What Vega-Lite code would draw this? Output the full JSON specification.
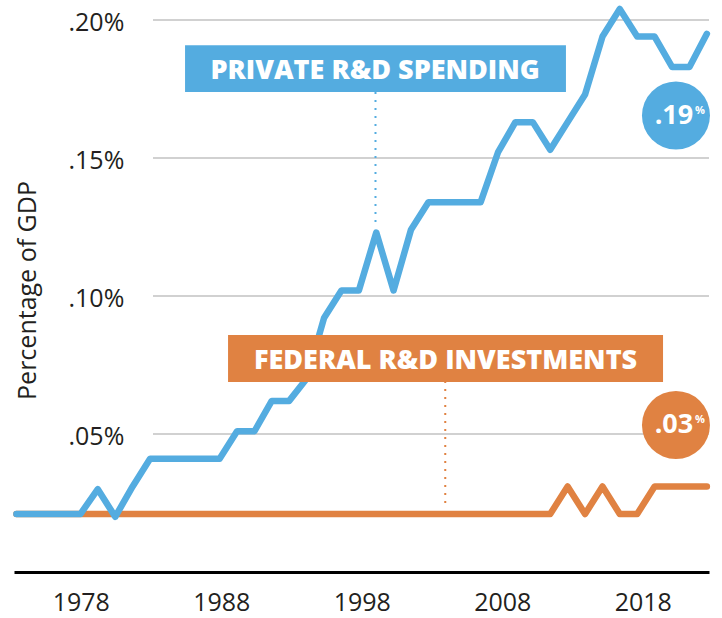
{
  "$schema": "https://vega.github.io/schema/vega-lite/v6.json",
  "width": 695,
  "height": 572,
  "autosize": {"type": "none"},
  "padding": {"left": 14, "top": 0, "right": 13, "bottom": 46},
  "background": "white",
  "config": {"view": {"stroke": null}, "font": "Open Sans"},
  "resolve": {"axis": {"x": "independent", "y": "independent"}},
  "datasets": {
    "rd": [
      {"year": 1973.42, "private": 0.021, "federal": 0.021},
      {"year": 1974.26, "private": 0.021, "federal": 0.021},
      {"year": 1975.50, "private": 0.021, "federal": 0.021},
      {"year": 1976.73, "private": 0.021, "federal": 0.021},
      {"year": 1977.97, "private": 0.021, "federal": 0.021},
      {"year": 1979.21, "private": 0.030, "federal": 0.021},
      {"year": 1980.45, "private": 0.020, "federal": 0.021},
      {"year": 1981.69, "private": 0.031, "federal": 0.021},
      {"year": 1982.93, "private": 0.041, "federal": 0.021},
      {"year": 1984.16, "private": 0.041, "federal": 0.021},
      {"year": 1985.40, "private": 0.041, "federal": 0.021},
      {"year": 1986.64, "private": 0.041, "federal": 0.021},
      {"year": 1987.88, "private": 0.041, "federal": 0.021},
      {"year": 1989.12, "private": 0.051, "federal": 0.021},
      {"year": 1990.36, "private": 0.051, "federal": 0.021},
      {"year": 1991.59, "private": 0.062, "federal": 0.021},
      {"year": 1992.83, "private": 0.062, "federal": 0.021},
      {"year": 1994.07, "private": 0.070, "federal": 0.021},
      {"year": 1995.31, "private": 0.092, "federal": 0.021},
      {"year": 1996.55, "private": 0.102, "federal": 0.021},
      {"year": 1997.79, "private": 0.102, "federal": 0.021},
      {"year": 1999.03, "private": 0.123, "federal": 0.021},
      {"year": 2000.26, "private": 0.102, "federal": 0.021},
      {"year": 2001.50, "private": 0.124, "federal": 0.021},
      {"year": 2002.74, "private": 0.134, "federal": 0.021},
      {"year": 2003.98, "private": 0.134, "federal": 0.021},
      {"year": 2005.22, "private": 0.134, "federal": 0.021},
      {"year": 2006.46, "private": 0.134, "federal": 0.021},
      {"year": 2007.69, "private": 0.152, "federal": 0.021},
      {"year": 2008.93, "private": 0.163, "federal": 0.021},
      {"year": 2010.17, "private": 0.163, "federal": 0.021},
      {"year": 2011.41, "private": 0.153, "federal": 0.021},
      {"year": 2012.65, "private": 0.163, "federal": 0.031},
      {"year": 2013.89, "private": 0.173, "federal": 0.021},
      {"year": 2015.13, "private": 0.194, "federal": 0.031},
      {"year": 2016.36, "private": 0.204, "federal": 0.021},
      {"year": 2017.60, "private": 0.194, "federal": 0.021},
      {"year": 2018.84, "private": 0.194, "federal": 0.031},
      {"year": 2020.08, "private": 0.183, "federal": 0.031},
      {"year": 2021.32, "private": 0.183, "federal": 0.031},
      {"year": 2022.56, "private": 0.195, "federal": 0.031}
    ]
  },
  "layer": [
    {
      "data": {"values": [{"tick": 0.05}, {"tick": 0.10}, {"tick": 0.15}, {"tick": 0.20}]},
      "mark": {"type": "rule", "color": "#a3a3a3", "strokeWidth": 1.2},
      "encoding": {
        "y": {
          "field": "tick", "type": "quantitative",
          "scale": {"domain": [0, 0.20725], "nice": false, "zero": false},
          "axis": {
            "title": "Percentage of GDP",
            "values": [0.05, 0.1, 0.15, 0.2],
            "labelExpr": "replace(format(datum.value, '.2f'), '0.', '.') + '%'",
            "domain": false, "ticks": false, "tickSize": 0, "grid": false,
            "labelAlign": "left", "labelBaseline": "middle", "labelPadding": -54, "labelOffset": 2,
            "labelFontSize": 25, "labelColor": "#231f20", "labelFont": "Open Sans",
            "labelOverlap": false, "labelFlush": false,
            "titleFont": "Open Sans", "titleFontSize": 25, "titleFontWeight": "normal",
            "titleColor": "#231f20", "titleX": 21, "titleY": 290,
            "titleBaseline": "alphabetic", "titleAngle": 270, "titleAlign": "center"
          }
        },
        "x": {"datum": 1983.14, "type": "quantitative", "scale": {"domain": [1973.2456, 2022.7117], "nice": false, "zero": false}, "axis": null},
        "x2": {"datum": 2022.7117}
      }
    },
    {
      "data": {"name": "rd"},
      "mark": {"type": "line", "color": "#e08242", "strokeWidth": 6.5, "strokeCap": "round", "strokeJoin": "round", "clip": false},
      "encoding": {
        "x": {
          "field": "year", "type": "quantitative",
          "scale": {"domain": [1973.2456, 2022.7117], "nice": false, "zero": false},
          "axis": {
            "values": [1978, 1988, 1998, 2008, 2018], "format": "d", "title": null,
            "domain": true, "domainColor": "#000000", "domainWidth": 3,
            "ticks": false, "tickSize": 0, "grid": false,
            "labelFontSize": 25, "labelColor": "#231f20", "labelFont": "Open Sans",
            "labelPadding": 18, "labelFlush": false, "labelOverlap": false
          }
        },
        "y": {"field": "federal", "type": "quantitative", "scale": {"domain": [0, 0.20725], "nice": false, "zero": false}, "axis": null}
      }
    },
    {
      "data": {"name": "rd"},
      "mark": {"type": "line", "color": "#54ace0", "strokeWidth": 6.5, "strokeCap": "round", "strokeJoin": "round", "clip": false},
      "encoding": {
        "x": {"field": "year", "type": "quantitative", "scale": {"domain": [1973.2456, 2022.7117], "nice": false, "zero": false}, "axis": null},
        "y": {"field": "private", "type": "quantitative", "scale": {"domain": [0, 0.20725], "nice": false, "zero": false}, "axis": null}
      }
    },
    {
      "data": {"values": [{"series": "private"}]},
      "mark": {"type": "rule", "color": "#54ace0", "strokeWidth": 2, "strokeDash": [2, 6]},
      "encoding": {
        "x": {"datum": 1998.975, "type": "quantitative", "axis": null},
        "y": {"datum": 0.1268, "type": "quantitative", "axis": null},
        "y2": {"datum": 0.1739}
      }
    },
    {
      "data": {"values": [{"series": "federal"}]},
      "mark": {"type": "rule", "color": "#e08242", "strokeWidth": 2, "strokeDash": [2, 6]},
      "encoding": {
        "x": {"datum": 2003.94, "type": "quantitative", "axis": null},
        "y": {"datum": 0.025, "type": "quantitative", "axis": null},
        "y2": {"datum": 0.0688}
      }
    },
    {
      "data": {"values": [{"series": "private"}]},
      "mark": {"type": "rect", "color": "#54ace0"},
      "encoding": {
        "x": {"datum": 1985.42, "type": "quantitative", "axis": null},
        "x2": {"datum": 2012.53},
        "y": {"datum": 0.1739, "type": "quantitative", "axis": null},
        "y2": {"datum": 0.1909}
      }
    },
    {
      "data": {"values": [{"series": "federal"}]},
      "mark": {"type": "rect", "color": "#e08242"},
      "encoding": {
        "x": {"datum": 1988.48, "type": "quantitative", "axis": null},
        "x2": {"datum": 2019.44},
        "y": {"datum": 0.0688, "type": "quantitative", "axis": null},
        "y2": {"datum": 0.0859}
      }
    },
    {
      "data": {"values": [{"label": "PRIVATE R&D SPENDING"}]},
      "mark": {"type": "text", "color": "#ffffff", "font": "Open Sans", "fontWeight": 800, "fontSize": 27, "align": "center", "baseline": "alphabetic"},
      "encoding": {
        "text": {"field": "label"},
        "x": {"datum": 1998.95, "type": "quantitative", "axis": null},
        "y": {"datum": 0.1786, "type": "quantitative", "axis": null}
      }
    },
    {
      "data": {"values": [{"label": "FEDERAL R&D INVESTMENTS"}]},
      "mark": {"type": "text", "color": "#ffffff", "font": "Open Sans", "fontWeight": 800, "fontSize": 27, "align": "center", "baseline": "alphabetic"},
      "encoding": {
        "text": {"field": "label"},
        "x": {"datum": 2003.96, "type": "quantitative", "axis": null},
        "y": {"datum": 0.0736, "type": "quantitative", "axis": null}
      }
    },
    {
      "data": {"values": [{"series": "private"}]},
      "mark": {"type": "point", "shape": "circle", "filled": true, "opacity": 1, "size": 4624, "color": "#54ace0"},
      "encoding": {
        "x": {"datum": 2020.36, "type": "quantitative", "axis": null},
        "y": {"datum": 0.1654, "type": "quantitative", "axis": null}
      }
    },
    {
      "data": {"values": [{"series": "federal"}]},
      "mark": {"type": "point", "shape": "circle", "filled": true, "opacity": 1, "size": 4624, "color": "#e08242"},
      "encoding": {
        "x": {"datum": 2020.36, "type": "quantitative", "axis": null},
        "y": {"datum": 0.05326, "type": "quantitative", "axis": null}
      }
    },
    {
      "data": {"values": [{"label": ".19"}]},
      "mark": {"type": "text", "color": "#ffffff", "font": "Open Sans", "fontWeight": "bold", "fontSize": 27, "align": "right", "baseline": "alphabetic"},
      "encoding": {
        "text": {"field": "label"},
        "x": {"datum": 2021.59, "type": "quantitative", "axis": null},
        "y": {"datum": 0.1622, "type": "quantitative", "axis": null}
      }
    },
    {
      "data": {"values": [{"label": ".03"}]},
      "mark": {"type": "text", "color": "#ffffff", "font": "Open Sans", "fontWeight": "bold", "fontSize": 27, "align": "right", "baseline": "alphabetic"},
      "encoding": {
        "text": {"field": "label"},
        "x": {"datum": 2021.59, "type": "quantitative", "axis": null},
        "y": {"datum": 0.05036, "type": "quantitative", "axis": null}
      }
    },
    {
      "data": {"values": [{"label": "%"}]},
      "mark": {"type": "text", "color": "#ffffff", "font": "Open Sans", "fontWeight": "bold", "fontSize": 11, "align": "left", "baseline": "alphabetic"},
      "encoding": {
        "text": {"field": "label"},
        "x": {"datum": 2021.72, "type": "quantitative", "axis": null},
        "y": {"datum": 0.1658, "type": "quantitative", "axis": null}
      }
    },
    {
      "data": {"values": [{"label": "%"}]},
      "mark": {"type": "text", "color": "#ffffff", "font": "Open Sans", "fontWeight": "bold", "fontSize": 11, "align": "left", "baseline": "alphabetic"},
      "encoding": {
        "text": {"field": "label"},
        "x": {"datum": 2021.72, "type": "quantitative", "axis": null},
        "y": {"datum": 0.05399, "type": "quantitative", "axis": null}
      }
    }
  ]
}
